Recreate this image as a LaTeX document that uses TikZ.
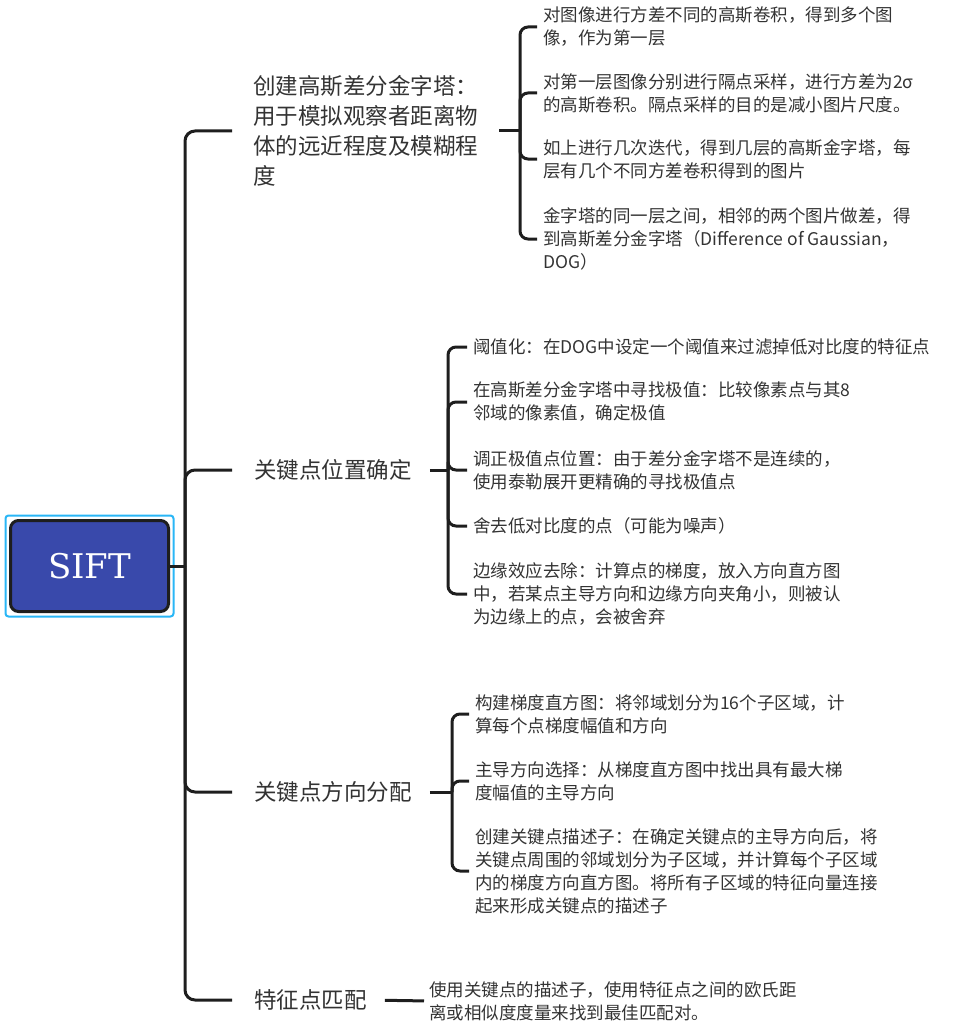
\documentclass[tikz,border=0pt]{standalone}
\usepackage{fontspec}
\setmainfont{Noto Sans CJK SC}
\newfontfamily\siftfont{DejaVu Serif}
\usetikzlibrary{calc}
\definecolor{siftblue}{RGB}{57,73,171}
\definecolor{siftcyan}{RGB}{41,182,246}
\definecolor{linegray}{RGB}{30,30,30}
\definecolor{textgray}{RGB}{51,51,51}
\tikzset{
    rootbox/.style={draw=linegray, line width=3pt, fill=siftblue, rounded corners=8pt,
        minimum width=158pt, minimum height=91pt, text=white,
        font=\siftfont\fontsize{34}{40}\selectfont},
    topicnode/.style={anchor=west, inner sep=0pt, align=left, text=textgray,
        font=\fontsize{22.5}{30}\selectfont},
    leafnode/.style={anchor=west, inner sep=0pt, align=left, text=textgray,
        font=\fontsize{17.5}{23}\selectfont},
    branch/.style={draw=linegray, line width=3pt, rounded corners=10pt},
    bracketline/.style={draw=linegray, line width=3pt, rounded corners=8pt},
}

\begin{document}
\begin{tikzpicture}[x=1pt, y=-1pt]
	\useasboundingbox (0,0) rectangle (960,1030);
	% root
	\node[rootbox] (root) at (89.5,566) {SIFT};
	\draw[siftcyan, line width=2pt, rounded corners=3pt]
		($(root.south west)+(-3.5,3.5)$) rectangle ($(root.north east)+(3.5,-3.5)$);
	\coordinate (trunk) at (185,566);
	% first level
	\node[topicnode] (gauss) at (253,131) {创建高斯差分金字塔：\\用于模拟观察者距离物\\体的远近程度及模糊程\\度};
	\node[topicnode] (locate) at (254,470) {关键点位置确定};
	\node[topicnode] (orient) at (254,792) {关键点方向分配};
	\node[topicnode] (match) at (254,1000) {特征点匹配};
	\draw[branch] (root.east) -- (trunk);
	\draw[branch, shorten >=21pt] (trunk) |- (gauss.west);
	\draw[branch, shorten >=22pt] (trunk) |- (locate.west);
	\draw[branch, shorten >=22pt] (trunk) |- (orient.west);
	\draw[branch, shorten >=22pt] (trunk) |- (match.west);
	% gaussian pyramid
	\coordinate (gspine) at (520,131);
	\node[leafnode] (g1) at (543,27) {对图像进行方差不同的高斯卷积，得到多个图\\像，作为第一层};
	\node[leafnode] (g2) at (543,93) {对第一层图像分别进行隔点采样，进行方差为2σ\\的高斯卷积。隔点采样的目的是减小图片尺度。};
	\node[leafnode] (g3) at (543,159) {如上进行几次迭代，得到几层的高斯金字塔，每\\层有几个不同方差卷积得到的图片};
	\node[leafnode] (g4) at (543,239) {金字塔的同一层之间，相邻的两个图片做差，得\\到高斯差分金字塔（Difference of Gaussian，\\DOG）};
	\draw[bracketline, shorten <=21pt] (gauss.east) -- (gspine);
	\foreach \leaf in {g1,g2,g3,g4}
		\draw[bracketline, shorten >=6pt] (gspine) |- (\leaf.west);
	% keypoint location
	\coordinate (lspine) at (448,470);
	\node[leafnode] (l1) at (473,347) {阈值化：在DOG中设定一个阈值来过滤掉低对比度的特征点};
	\node[leafnode] (l2) at (473,402) {在高斯差分金字塔中寻找极值：比较像素点与其8\\邻域的像素值，确定极值};
	\node[leafnode] (l3) at (473,470) {调正极值点位置：由于差分金字塔不是连续的，\\使用泰勒展开更精确的寻找极值点};
	\node[leafnode] (l4) at (473,526) {舍去低对比度的点（可能为噪声）};
	\node[leafnode] (l5) at (473,594) {边缘效应去除：计算点的梯度，放入方向直方图\\中，若某点主导方向和边缘方向夹角小，则被认\\为边缘上的点，会被舍弃};
	\draw[bracketline, shorten <=18pt] (locate.east) -- (lspine);
	\foreach \leaf in {l1,l2,l3,l4,l5}
		\draw[bracketline, shorten >=6pt] (lspine) |- (\leaf.west);
	% keypoint orientation
	\coordinate (ospine) at (452,792);
	\node[leafnode] (o1) at (475,714) {构建梯度直方图：将邻域划分为16个子区域，计\\算每个点梯度幅值和方向};
	\node[leafnode] (o2) at (475,781) {主导方向选择：从梯度直方图中找出具有最大梯\\度幅值的主导方向};
	\node[leafnode] (o3) at (475,871) {创建关键点描述子：在确定关键点的主导方向后，将\\关键点周围的邻域划分为子区域，并计算每个子区域\\内的梯度方向直方图。将所有子区域的特征向量连接\\起来形成关键点的描述子};
	\draw[bracketline, shorten <=18pt] (orient.east) -- (ospine);
	\foreach \leaf in {o1,o2,o3}
		\draw[bracketline, shorten >=6pt] (ospine) |- (\leaf.west);
	% matching
	\node[leafnode] (m1) at (429,1001) {使用关键点的描述子，使用特征点之间的欧氏距\\离或相似度度量来找到最佳匹配对。};
	\draw[bracketline, shorten <=18pt, shorten >=5pt] (match.east) -- (m1.west);
\end{tikzpicture}
\end{document}
